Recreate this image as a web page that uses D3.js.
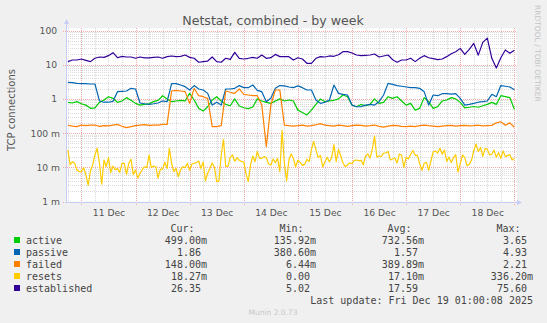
<!DOCTYPE html>
<html>
<head>
<meta charset="utf-8">
<script src="https://cdn.jsdelivr.net/npm/d3@7"></script>
<style>
  html, body { margin: 0; padding: 0; background: #f0f0f0; }
  svg { display: block; }
</style>
</head>
<body>
<svg id="chart" width="547" height="323"></svg>
<script>
// Munin "netstat" weekly graph: TCP connection counters on a log scale.

const seriesNames  = ["active", "passive", "failed", "resets", "established"];
const seriesColors = ["#00cc00", "#0066b3", "#ff8000", "#ffcc00", "#330099"];

// 2-hour averages starting Thu Dec 10 18:00
const active = [
  0.79,0.76,0.83,0.72,0.66,0.53,0.55,0.79,0.93,1.16,1.04,0.79,0.87,1.09,0.91,0.74,0.66,0.69,0.72,0.83,0.91,1.24,1.0,0.83,
  0.87,0.91,0.87,1.45,0.93,0.53,0.44,0.59,0.93,1.16,0.87,0.69,0.63,1.0,0.62,0.55,0.52,0.58,1.0,0.87,0.79,0.74,0.87,1.0,0.87,0.93,0.87,
  0.47,0.40,0.34,0.47,0.69,1.0,0.83,0.87,0.91,1.0,1.3,1.16,0.66,0.59,0.69,0.63,0.69,1.0,0.74,0.79,1.16,1.04,1.16,0.87,0.66,
  0.74,0.47,0.53,1.09,0.83,0.53,0.59,0.87,0.93,1.09,1.0,0.79,0.55,0.57,0.6,0.57,0.63,0.69,0.79,0.69,1.24,1.16,1.09,0.499
];
const passive = [
  3.05,2.98,2.85,2.8,2.8,2.73,2.73,0.87,0.8,0.8,0.85,1.63,1.66,1.7,2.04,1.95,0.76,0.72,0.69,0.72,0.76,0.87,0.83,2.8,
  2.8,2.55,2.28,1.82,2.45,1.95,1.82,1.45,0.66,0.8,0.66,1.95,1.95,2.04,2.45,2.13,2.13,2.55,1.78,1.63,0.83,1.04,2.04,2.45,2.4,2.23,2.13,
  2.4,2.13,1.82,1.82,0.93,0.74,0.8,0.93,2.55,1.45,1.36,1.3,0.66,0.59,0.59,0.66,0.69,0.66,0.83,1.3,2.85,2.67,2.45,2.34,2.23,
  2.13,2.13,2.04,1.63,0.66,1.3,1.24,1.42,1.42,1.38,1.42,1.04,0.66,0.69,0.74,0.8,0.83,0.87,1.36,1.16,2.45,2.34,2.23,1.86
];
const failed = [
  0.17,0.16,0.155,0.172,0.165,0.17,0.172,0.158,0.165,0.162,0.172,0.18,0.158,0.145,0.155,0.165,0.172,0.178,0.168,0.172,0.172,0.18,0.18,
  1.7,1.78,1.7,1.63,0.74,2.04,1.24,1.16,1.04,0.154,0.154,0.165,1.7,1.56,1.45,1.95,1.36,1.3,1.24,1.24,0.66,0.04,0.66,1.82,1.82,0.172,0.165,0.16,
  0.165,0.172,0.16,0.165,0.175,0.19,0.17,0.165,0.16,0.172,0.165,0.158,0.165,0.172,0.168,0.16,0.165,0.172,0.158,0.15,0.16,0.168,0.165,0.158,0.155,
  0.16,0.155,0.165,0.172,0.165,0.16,0.155,0.16,0.165,0.168,0.16,0.165,0.168,0.162,0.165,0.17,0.162,0.165,0.168,0.2,0.215,0.17,0.2,0.148
];
const established = [
  12.3,13.7,13.7,14.7,13.4,12.3,15.4,16.8,16.4,18.4,22.5,16,17.6,16.8,16.8,15.4,16.8,15.8,15.8,16.4,16.8,15.4,17.2,18,
  17.2,17.6,19.2,16.4,15.4,11.8,12.3,12.8,16.8,12.3,11.8,15.4,14.3,23,15.4,14.7,15.4,16.4,15.4,19.2,15.4,16,20,17.2,17.2,17.2,13.7,
  16,14.7,11,11,15.4,17.2,16.8,18,17.6,19.6,24,24,22,19.2,18.4,18.8,19.2,20.5,16.8,18,19.2,14,11.8,13.7,13.7,
  15.4,12.3,15.4,18.4,16,15,14,14.7,17.2,20.9,24,30,20,28,42,19,45,60,15.4,8,16,27,21.5,26.35
];
// hourly averages starting Thu Dec 10 18:00
const resets = [
  0.032,0.0117,0.0146,0.0131,0.0083,0.0075,0.0075,0.0098,0.006,0.003,0.0078,0.0117,0.0229,0.036,0.0131,0.0032,0.0163,0.0104,0.0191,0.007,
  0.0109,0.0085,0.0093,0.0071,0.0131,0.0131,0.0062,0.0131,0.0171,0.0062,0.0083,0.0048,0.0067,0.0085,0.0104,0.0098,0.0229,0.0098,0.0109,0.0104,
  0.0048,0.0089,0.0089,0.014,0.0093,0.036,0.0131,0.0075,0.0093,0.0053,
  0.0085,0.0104,0.0098,0.0131,0.0082,0.0125,0.0131,0.0137,0.0153,0.0093,0.0143,0.004,0.0067,0.0093,0.0134,0.01,0.0038,0.004,0.0229,0.065,
  0.0107,0.0107,0.0196,0.0229,0.0149,0.0191,0.016,0.0149,0.0143,0.0065,0.0038,0.0117,0.0214,0.0146,0.029,0.0183,0.0183,0.0205,0.0191,0.0125,
  0.0117,0.0175,0.0137,0.0183,0.0075,0.12,0.0134,0.004,0.0163,0.0245,
  0.0183,0.0102,0.0163,0.014,0.0114,0.0122,0.0171,0.0146,0.033,0.057,0.033,0.0191,0.0224,0.0102,0.0146,0.0196,0.0143,0.0196,0.046,0.0146,
  0.0335,0.0214,0.0134,0.0104,0.0117,0.0134,0.0128,0.016,0.0163,0.0156,0.016,0.0117,0.0214,0.0245,0.0187,0.034,0.082,0.02,0.0214,0.0209,
  0.0262,0.0262,0.029,0.0163,0.0175,0.0187,0.0134,0.0245,0.0229,0.01,
  0.0196,0.0175,0.024,0.031,0.0224,0.0224,0.0128,0.0082,0.0131,0.014,0.0082,0.0153,0.028,0.03,0.0262,0.036,0.024,0.032,0.0149,0.02,
  0.0137,0.0191,0.0234,0.0073,0.0128,0.0229,0.0191,0.0112,0.0122,0.016,0.031,0.048,0.0286,0.038,0.0209,0.035,0.034,0.0229,0.024,0.032,
  0.0196,0.0268,0.0183,0.03,0.0205,0.022,0.0234,0.0163,0.01827
];

const legendCur = ["499.00m", "1.86",    "148.00m", "18.27m", "26.35"];
const legendMin = ["135.92m", "380.60m", "6.44m",   "0.00",   "5.02"];
const legendAvg = ["732.56m", "1.57",    "389.89m", "17.10m", "17.59"];
const legendMax = ["3.65",    "4.93",    "2.21",    "336.20m","75.60"];
const legendHeads = ["Cur:", "Min:", "Avg:", "Max:"];

const yTickValues = [0.001, 0.01, 0.1, 1, 10, 100];
const yTickLabels = ["1 m", "10 m", "100 m", "1", "10", "100"];
const xTickDays   = [11, 12, 13, 14, 15, 16, 17, 18];

const titleText = "Netstat, combined - by week";
const yAxisTitle = "TCP connections";
const lastUpdate = "Last update: Fri Dec 19 01:00:08 2025";

// ---------------------------------------------------------------------------
const W = 547, H = 323;
const L = 66, R = 517, T = 30.5, B = 201.5;
const sans = "'DejaVu Sans', sans-serif";
const mono = "'DejaVu Sans Mono', monospace";
const NB = "\u00a0";

const svg = d3.select("#chart");
svg.append("rect").attr("width", W).attr("height", H).attr("fill", "#f0f0f0");
svg.append("rect").attr("x", L).attr("y", 28).attr("width", R - L).attr("height", B - 28).attr("fill", "#ffffff");

const x = d3.scaleTime()
  .domain([new Date(2025, 11, 10, 17, 10), new Date(2025, 11, 19, 1, 10)])
  .range([L, R]);
const y = d3.scaleLog().domain([0.001, 100]).range([B, T]);

const snap = v => Math.round(v) + 0.5;

// grid
const grid = svg.append("g").attr("shape-rendering", "crispEdges");
const minorY = [];
yTickValues.slice(0, -1).forEach(d => { for (let k = 2; k <= 9; k++) minorY.push(d * k); });
const minorCol = "#dadada", majorCol = "#f5a8a8";
grid.selectAll(".hmin").data(minorY).join("line")
  .attr("x1", L).attr("x2", R).attr("y1", d => snap(y(d))).attr("y2", d => snap(y(d)))
  .attr("stroke", minorCol).attr("stroke-dasharray", "1,1");

const t0 = new Date(2025, 11, 10, 18), t1 = new Date(2025, 11, 19, 1);
const sixHours = d3.timeHour.every(6).range(t0, t1).filter(d => d.getHours() !== 0);
const midnights = d3.timeDay.range(new Date(2025, 11, 11), t1);
grid.selectAll(".vmin").data(sixHours).join("line")
  .attr("x1", d => snap(x(d))).attr("x2", d => snap(x(d))).attr("y1", 28).attr("y2", B)
  .attr("stroke", minorCol).attr("stroke-dasharray", "1,1");

grid.selectAll(".hmaj").data(yTickValues).join("line")
  .attr("x1", L - 3).attr("x2", R).attr("y1", d => snap(y(d))).attr("y2", d => snap(y(d)))
  .attr("stroke", majorCol).attr("stroke-dasharray", "1,1");
grid.selectAll(".vmaj").data(midnights).join("line")
  .attr("x1", d => snap(x(d))).attr("x2", d => snap(x(d))).attr("y1", 28).attr("y2", B + 3)
  .attr("stroke", majorCol).attr("stroke-dasharray", "1,1");

// series lines
const twoHourly = i => new Date(2025, 11, 10, 18 + 2 * i);
const hourly = i => new Date(2025, 11, 10, 18 + i);
const data = [
  active.map((v, i) => [twoHourly(i), v]),
  passive.map((v, i) => [twoHourly(i), v]),
  failed.map((v, i) => [twoHourly(i), v]),
  resets.map((v, i) => [hourly(i), v]),
  established.map((v, i) => [twoHourly(i), v])
];
const line = d3.line().x(d => x(d[0])).y(d => y(d[1]));
const lines = svg.append("g").attr("fill", "none").attr("stroke-width", 1.2).attr("stroke-linejoin", "round");
data.forEach((s, k) => lines.append("path").attr("d", line(s)).attr("stroke", seriesColors[k]));

// axes lines with arrows
const axisCol = "#c6ccf4";
const ax = svg.append("g").attr("shape-rendering", "crispEdges");
ax.append("line").attr("x1", L + 0.5).attr("x2", L + 0.5).attr("y1", B + 1).attr("y2", 23).attr("stroke", axisCol);
ax.append("line").attr("x1", L - 1).attr("x2", R).attr("y1", snap(B)).attr("y2", snap(B)).attr("stroke", axisCol);
svg.append("path").attr("d", `M${L - 2},24 L${L + 3},24 L${L + 0.5},19 Z`).attr("fill", axisCol);
svg.append("path").attr("d", `M${R},${snap(B) - 2.5} L${R},${snap(B) + 2.5} L${R + 5},${snap(B)} Z`).attr("fill", axisCol);

// y tick labels
const yAxis = d3.axisLeft(y).tickValues(yTickValues)
  .tickFormat((d, i) => yTickLabels[i] + (yTickLabels[i].includes(" ") ? "" : NB))
  .tickSize(0).tickPadding(6);
const gy = svg.append("g").attr("transform", `translate(${L},0)`).call(yAxis);
gy.select(".domain").remove();
gy.selectAll("text").attr("font-family", sans).attr("font-size", 9.2).attr("fill", "#555");

// x tick labels at noon of each day
const xAxis = d3.axisBottom(x).tickValues(xTickDays.map(d => new Date(2025, 11, d, 12)))
  .tickFormat(d3.timeFormat("%d Dec")).tickSize(0).tickPadding(8);
const gx = svg.append("g").attr("transform", `translate(0,${B})`).call(xAxis);
gx.select(".domain").remove();
gx.selectAll("text").attr("font-family", sans).attr("font-size", 9.2).attr("fill", "#555");

// titles
svg.append("text").attr("x", 273).attr("y", 24.5).attr("text-anchor", "middle")
  .attr("font-family", sans).attr("font-size", 12.6).attr("fill", "#555").text(titleText);
svg.append("text").attr("transform", "translate(15,110) rotate(-90)").attr("text-anchor", "middle")
  .attr("font-family", sans).attr("font-size", 10).attr("fill", "#555").text(yAxisTitle);
svg.append("text").attr("transform", "translate(535,5) rotate(90)").attr("text-anchor", "start")
  .attr("font-family", sans).attr("font-size", 7.5).attr("fill", "#c4c4c4").text("RRDTOOL / TOBI OETIKER");

// legend
const colRight = [207, 316, 424, 533];
const rowY = i => 243.5 + i * 12;
const lg = svg.append("g").attr("font-family", mono).attr("font-size", 10).attr("fill", "#444");
legendHeads.forEach((h, c) => lg.append("text").attr("x", colRight[c] - 12.5).attr("y", 231.5)
  .attr("text-anchor", "end").text(h));
const cols = [legendCur, legendMin, legendAvg, legendMax];
seriesNames.forEach((name, i) => {
  lg.append("rect").attr("x", 14).attr("y", rowY(i) - 6.5).attr("width", 6).attr("height", 6).attr("fill", seriesColors[i]);
  lg.append("text").attr("x", 26).attr("y", rowY(i)).text(name);
  cols.forEach((col, c) => {
    const s = col[i];
    lg.append("text").attr("x", colRight[c]).attr("y", rowY(i)).attr("text-anchor", "end")
      .text(/m$/.test(s) ? s : s + NB);
  });
});
lg.append("text").attr("x", 533).attr("y", rowY(5)).attr("text-anchor", "end").text(lastUpdate);
svg.append("text").attr("x", 273).attr("y", 315).attr("text-anchor", "middle")
  .attr("font-family", sans).attr("font-size", 7.5).attr("fill", "#c8c8c8").text("Munin 2.0.73");
</script>
</body>
</html>
